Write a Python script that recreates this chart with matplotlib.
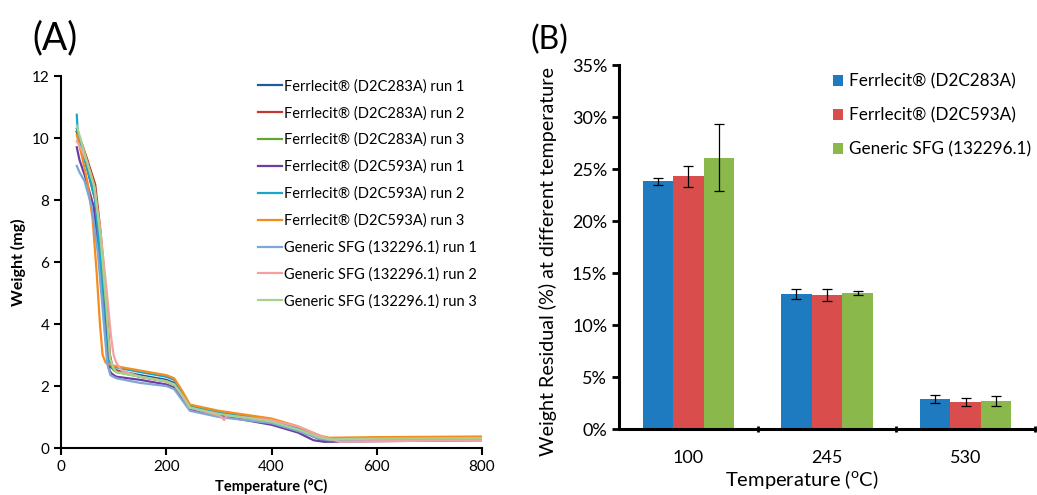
import matplotlib
matplotlib.use("Agg")
import matplotlib.pyplot as plt
import numpy as np

plt.rcParams['font.family'] = ['Lato', 'DejaVu Sans']

# ---------------- Panel A data (TGA curves) ----------------
labels_a = ["Ferrlecit\u00ae (D2C283A) run 1", "Ferrlecit\u00ae (D2C283A) run 2",
            "Ferrlecit\u00ae (D2C283A) run 3", "Ferrlecit\u00ae (D2C593A) run 1",
            "Ferrlecit\u00ae (D2C593A) run 2", "Ferrlecit\u00ae (D2C593A) run 3",
            "Generic SFG (132296.1) run 1", "Generic SFG (132296.1) run 2",
            "Generic SFG (132296.1) run 3"]
colors_a = ["#1f5c9e", "#c0392b", "#5ea830", "#6b3fa0", "#1ba5c9", "#f68b1f",
            "#7ea6d8", "#f4a0a0", "#a9d18e"]

T1 = [30, 40, 50, 65, 75, 83, 90, 95, 105, 150, 200, 215, 230, 245, 300, 400, 450, 490, 510, 600, 800]
W1 = [10.2, 9.6, 9.0, 8.0, 6.0, 4.0, 2.8, 2.6, 2.5, 2.35, 2.2, 2.1, 1.7, 1.3, 1.1, 0.9, 0.6, 0.3, 0.22, 0.25, 0.28]
T2 = [30, 40, 50, 65, 75, 85, 93, 98, 105, 150, 200, 215, 230, 245, 300, 400, 450, 490, 510, 600, 800]
W2 = [10.2, 9.8, 9.3, 8.5, 7.0, 5.0, 3.0, 2.6, 2.5, 2.3, 2.15, 2.05, 1.7, 1.3, 1.1, 0.85, 0.6, 0.3, 0.25, 0.28, 0.3]
T3 = [30, 40, 50, 65, 75, 85, 93, 98, 105, 150, 200, 215, 230, 245, 300, 400, 450, 490, 510, 600, 800]
W3 = [10.3, 9.7, 9.1, 8.2, 6.5, 4.5, 2.8, 2.55, 2.45, 2.3, 2.15, 2.05, 1.7, 1.3, 1.1, 0.85, 0.6, 0.4, 0.3, 0.3, 0.32]
T4 = [30, 35, 45, 62, 74, 84, 92, 96, 105, 150, 200, 215, 230, 245, 300, 400, 450, 480, 500, 600, 800]
W4 = [9.7, 9.3, 8.8, 7.8, 6.0, 4.0, 2.5, 2.4, 2.3, 2.2, 2.05, 1.95, 1.6, 1.25, 1.05, 0.75, 0.5, 0.25, 0.2, 0.22, 0.25]
T5 = [30, 32, 40, 50, 65, 75, 83, 88, 94, 105, 150, 200, 215, 230, 245, 300, 400, 450, 490, 510, 600, 800]
W5 = [10.75, 10.1, 9.6, 9.0, 8.0, 6.0, 4.0, 2.9, 2.7, 2.6, 2.45, 2.3, 2.2, 1.8, 1.35, 1.15, 0.9, 0.65, 0.35, 0.3, 0.32, 0.35]
T6 = [30, 40, 50, 60, 68, 74, 79, 85, 100, 150, 200, 215, 230, 245, 300, 400, 450, 490, 510, 600, 800]
W6 = [10.1, 9.4, 8.6, 7.4, 5.6, 4.0, 3.0, 2.75, 2.65, 2.5, 2.35, 2.25, 1.85, 1.4, 1.2, 0.95, 0.7, 0.4, 0.33, 0.35, 0.37]
T7 = [30, 35, 45, 58, 70, 80, 88, 94, 105, 150, 200, 215, 230, 245, 300, 400, 450, 490, 510, 600, 800]
W7 = [9.1, 8.9, 8.6, 7.8, 6.3, 4.3, 2.7, 2.35, 2.25, 2.1, 2.0, 1.9, 1.55, 1.2, 1.0, 0.8, 0.55, 0.3, 0.25, 0.27, 0.3]
T8 = [30, 40, 50, 62, 75, 86, 95, 100, 105, 115, 150, 200, 215, 230, 245, 300, 305, 310, 315, 400, 450, 500, 530, 600, 800]
W8 = [9.9, 9.6, 9.2, 8.5, 7.0, 5.2, 3.6, 3.0, 2.75, 2.5, 2.3, 2.15, 2.05, 1.7, 1.3, 1.05, 1.0, 0.9, 1.05, 0.9, 0.7, 0.35, 0.2, 0.22, 0.25]
T9 = [30, 40, 50, 64, 75, 86, 93, 99, 105, 150, 200, 215, 230, 245, 300, 400, 450, 490, 510, 600, 800]
W9 = [10.4, 9.8, 9.2, 8.4, 6.8, 4.6, 2.9, 2.6, 2.45, 2.3, 2.15, 2.05, 1.7, 1.3, 1.1, 0.85, 0.6, 0.35, 0.28, 0.3, 0.32]

curves_T = [T1, T2, T3, T4, T5, T6, T7, T8, T9]
curves_W = [W1, W2, W3, W4, W5, W6, W7, W8, W9]

# ---------------- Panel B data (bars) ----------------
categories_b = ["100", "245", "530"]
series_b = ["Ferrlecit\u00ae (D2C283A)", "Ferrlecit\u00ae (D2C593A)", "Generic SFG (132296.1)"]
colors_b = ["#1f7bbf", "#d94d4d", "#8bb84b"]
values_b = [[23.8, 13.0, 2.9],
            [24.3, 12.9, 2.6],
            [26.1, 13.1, 2.7]]
errors_b = [[0.3, 0.5, 0.4],
            [1.0, 0.6, 0.4],
            [3.2, 0.2, 0.5]]

W, H = 1037, 495
fig = plt.figure(figsize=(W / 100, H / 100), dpi=100)

# ---------------- Panel A ----------------
axA = fig.add_axes([61 / W, (H - 448) / H, (482 - 61) / W, (448 - 76) / H])
for T, Wt, c, lab in zip(curves_T, curves_W, colors_a, labels_a):
    axA.plot(T, Wt, color=c, lw=1.6, label=lab)
axA.set_xlim(0, 800)
axA.set_ylim(0, 12)
axA.set_xticks([0, 200, 400, 600, 800])
axA.set_yticks([0, 2, 4, 6, 8, 10, 12])
for s in ["top", "right"]:
    axA.spines[s].set_visible(False)
for s in ["left", "bottom"]:
    axA.spines[s].set_linewidth(1.5)
axA.tick_params(direction="out", length=5, width=1.5, labelsize=11)
axA.set_ylabel("Weight (mg)", fontsize=11.5, fontweight="bold")
axA.yaxis.set_label_coords(-0.082, 0.5)
axA.set_xlabel("Temperature (\u00b0C)", fontsize=10.5, fontweight="bold")
axA.xaxis.set_label_coords(0.5, -0.084)
leg = axA.legend(loc="upper left", bbox_to_anchor=((258 - 61) / 421, (448 - 79) / 372),
                 frameon=False, fontsize=10.5, handlelength=1.65, handletextpad=0.1,
                 labelspacing=0.86, borderaxespad=0, borderpad=0)
fig.text(32 / W, 1 - 38 / H, "(A)", fontsize=27, va="center", ha="left")

# ---------------- Panel B ----------------
axB = fig.add_axes([619 / W, (H - 429) / H, (1035 - 619) / W, (429 - 65) / H])
x = np.arange(len(categories_b))
bw = 0.22
offsets = [-bw, 0, bw]
for vals, errs, c, lab, off in zip(values_b, errors_b, colors_b, series_b, offsets):
    axB.bar(x + off, vals, width=bw, color=c, label=lab,
            yerr=errs, capsize=3.5,
            error_kw=dict(elinewidth=0.9, capthick=0.9, ecolor="black"))
axB.set_xlim(-0.5, 2.5)
axB.set_ylim(0, 35)
axB.set_yticks(np.arange(0, 36, 5))
axB.set_yticklabels([f"{v}%" for v in range(0, 36, 5)])
axB.set_xticks(x)
axB.set_xticklabels(categories_b)
axB.set_xticks([0.5, 1.5, 2.5], minor=True)
axB.tick_params(axis="x", which="major", length=0, labelsize=13, pad=15)
axB.tick_params(axis="x", which="minor", length=5, width=2, direction="inout")
axB.tick_params(axis="y", direction="out", length=5, width=2, labelsize=13)
for s in ["top", "right"]:
    axB.spines[s].set_visible(False)
for s in ["left", "bottom"]:
    axB.spines[s].set_linewidth(2.2)
axB.set_ylabel("Weight Residual (%) at different temperature", fontsize=14.2)
axB.yaxis.set_label_coords(-0.148, 0.46)
axB.set_xlabel("Temperature ($^{\\mathregular{o}}$C)", fontsize=14.5)
axB.xaxis.set_label_coords(0.44, -0.107)
axB.legend(loc="upper left", bbox_to_anchor=((833 - 619) / 416, (429 - 73) / 364),
           frameon=False, fontsize=12.3, handlelength=0.58, handleheight=0.62,
           handletextpad=0.35, labelspacing=1.05, borderaxespad=0, borderpad=0)
fig.text(531 / W, 1 - 40 / H, "(B)", fontsize=23, va="center", ha="left")

fig.savefig("out.png", dpi=100)
